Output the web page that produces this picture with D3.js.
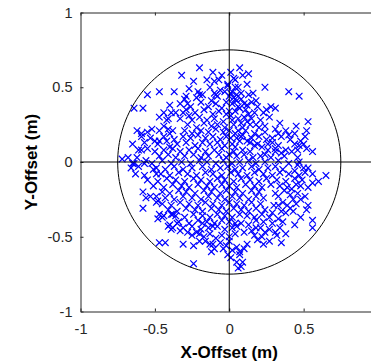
<!DOCTYPE html>
<html>
<head>
<meta charset="utf-8">
<script src="https://cdn.jsdelivr.net/npm/d3@7"></script>
<style>
  body { margin: 0; background: #fff; }
  svg { display: block; }
</style>
</head>
<body>
<svg id="chart" width="371" height="364"></svg>
<script>
// Axis ticks and titles
const tickValues = [-1, -0.5, 0, 0.5, 1];
const tickLabels = ["-1", "-0.5", "0", "0.5", "1"];
const xTitle = "X-Offset (m)";
const yTitle = "Y-Offset (m)";
const ringRadius = 0.75;

// Impact offsets [x, y] in metres
const offsets = [
  // upper band
  [-0.20,0.63],[-0.32,0.58],[-0.11,0.60],[-0.07,0.55],[-0.15,0.55],[-0.24,0.54],[-0.27,0.49],
  [-0.37,0.47],[-0.47,0.47],[-0.55,0.45],[-0.18,0.45],[-0.13,0.50],[-0.10,0.54],[-0.21,0.47],
  [0.07,0.63],[0.13,0.59],[0.09,0.58],[0.04,0.55],[0.12,0.52],[0.24,0.50],[0.40,0.47],[0.47,0.44],
  [0.01,0.46],[0.05,0.45],[-0.01,0.51],[0.13,0.45],[0.16,0.46],[0.18,0.41],[0.19,0.37],[0.10,0.39],
  [0.07,0.36],[0.04,0.42],[0.28,0.37],[0.25,0.35],[0.23,0.33],[0.00,0.34],[0.01,0.31],[0.13,0.32],
  [0.10,0.30],[0.15,0.29],[0.08,0.26],[0.18,0.25],[0.20,0.23],[0.02,0.47],[0.04,0.50],[0.00,0.44],
  [-0.02,0.40],[0.05,0.41],[0.08,0.46],[-0.06,0.48],[-0.10,0.46],[-0.22,0.43],[-0.08,0.44],
  [-0.03,0.47],[0.03,0.43],[-0.12,0.41],[0.08,0.42],[-0.30,0.42],[-0.01,0.52],[0.03,0.56],
  [-0.05,0.58],[0.06,0.50],[0.01,0.60],[-0.29,0.44],[-0.20,0.45],[-0.09,0.45],[-0.28,0.39],
  // right side
  [0.53,0.27],[0.52,0.21],[0.51,0.17],[0.31,0.22],[0.33,0.19],[0.29,0.16],[0.41,0.15],[0.44,0.12],
  [0.47,0.11],[0.48,0.14],[0.46,0.08],[0.38,0.08],[0.56,0.07],[0.06,0.21],[0.08,0.17],[0.12,0.14],
  [0.17,0.11],[0.22,0.10],[0.26,0.12],[0.31,0.07],[0.35,0.06],[0.24,0.05],[0.01,0.16],[0.04,0.10],
  [0.00,0.05],
  // left side, upper half
  [-0.62,0.21],[-0.59,0.19],[-0.52,0.22],[-0.53,0.16],[-0.50,0.14],[-0.61,0.08],[-0.59,0.08],
  [-0.72,0.02],[-0.62,0.03],[-0.56,0.01],[-0.41,0.22],[-0.38,0.21],[-0.47,0.14],[-0.40,0.10],
  [-0.64,0.36],[-0.58,0.36],[-0.44,0.33],[-0.39,0.33],[-0.47,0.30],[-0.41,0.29],[-0.31,0.33],
  [-0.27,0.31],
  // right side, lower half
  [0.65,-0.09],[0.60,-0.13],[0.56,-0.14],[0.53,-0.29],[0.52,-0.32],[0.48,-0.37],[0.56,-0.39],
  [0.56,-0.44],[0.43,-0.25],[0.45,-0.28],[0.39,-0.29],[0.36,-0.27],[0.33,-0.29],[0.35,-0.33],
  [0.38,-0.34],[0.42,-0.18],[0.46,-0.21],[0.48,-0.16],[0.51,-0.23],[0.53,-0.04],[0.51,-0.07],
  [0.46,-0.02],[0.44,-0.06],[0.31,-0.47],[0.32,-0.49],[0.35,-0.54],[0.27,-0.53],[0.19,-0.52],
  [0.12,-0.55],[0.05,-0.57],[0.07,-0.62],[0.09,-0.67],[0.05,-0.67],[0.01,-0.64],[0.24,-0.47],
  [0.18,-0.44],[0.15,-0.46],[0.10,-0.47],[0.13,-0.42],[0.08,-0.41],[0.08,-0.70],[0.06,-0.71],
  [0.07,-0.60],
  // left side, lower half
  [-0.58,-0.20],[-0.53,-0.23],[-0.49,-0.27],[-0.58,-0.31],[-0.47,-0.35],[-0.44,-0.36],[-0.39,-0.35],
  [-0.41,-0.43],[-0.39,-0.45],[-0.47,-0.54],[-0.43,-0.54],[-0.31,-0.55],[-0.24,-0.68],[-0.33,-0.46],
  [-0.28,-0.47],[-0.22,-0.47],[-0.20,-0.53],[-0.13,-0.55],[-0.10,-0.58],[-0.13,-0.48],[-0.09,-0.51],
  [-0.02,-0.56],[-0.01,-0.62],[-0.56,-0.24],[-0.48,-0.26],[-0.49,-0.23],[-0.45,-0.37],[-0.48,-0.38],
  [-0.38,-0.35],[-0.40,-0.42],[-0.38,-0.44],[-0.35,-0.41],[-0.24,-0.56],[-0.25,-0.49],[-0.20,-0.48],
  [-0.11,-0.55],[-0.12,-0.60],[-0.18,-0.41],[-0.11,-0.43],[-0.65,-0.01],[-0.61,-0.03],[-0.57,-0.01],
  [-0.51,-0.05],[-0.49,-0.08],
  // central cloud
  [-0.40,0.38],[-0.33,0.39],[-0.26,0.37],[-0.19,0.40],[-0.14,0.37],[-0.09,0.39],[-0.05,0.36],
  [0.02,0.39],[0.06,0.37],[0.12,0.38],[0.15,0.40],
  [-0.36,0.33],[-0.29,0.35],[-0.23,0.33],[-0.17,0.35],[-0.11,0.32],[-0.07,0.34],[-0.02,0.32],
  [0.04,0.34],[0.11,0.35],[0.17,0.33],[0.31,0.36],
  [-0.42,0.28],[-0.33,0.29],[-0.25,0.28],[-0.20,0.30],[-0.15,0.28],[-0.10,0.29],[-0.04,0.27],
  [0.02,0.28],[0.06,0.29],[0.12,0.27],[0.21,0.28],[0.27,0.30],
  [-0.44,0.24],[-0.28,0.25],[-0.22,0.23],[-0.17,0.26],[-0.12,0.24],[-0.08,0.25],[-0.03,0.23],
  [0.03,0.25],[0.09,0.23],[0.14,0.25],[0.24,0.24],[0.34,0.26],[0.45,0.24],
  [-0.55,0.20],[-0.47,0.21],[-0.40,0.19],[-0.30,0.21],[-0.25,0.19],[-0.19,0.21],[-0.14,0.20],
  [-0.09,0.22],[-0.04,0.20],[0.00,0.21],[0.04,0.19],[0.11,0.21],[0.17,0.19],[0.24,0.20],
  [0.38,0.21],[0.44,0.19],
  [-0.59,0.17],[-0.44,0.17],[-0.37,0.15],[-0.31,0.17],[-0.26,0.16],[-0.21,0.18],[-0.16,0.16],
  [-0.11,0.17],[-0.06,0.15],[-0.02,0.17],[0.05,0.16],[0.09,0.18],[0.15,0.16],[0.20,0.17],
  [0.25,0.15],[0.35,0.17],[0.40,0.18],
  [-0.65,0.12],[-0.57,0.13],[-0.48,0.12],[-0.42,0.14],[-0.35,0.12],[-0.29,0.13],[-0.23,0.11],
  [-0.18,0.13],[-0.13,0.12],[-0.08,0.13],[-0.03,0.11],[0.02,0.12],[0.07,0.14],[0.14,0.13],
  [0.19,0.12],[0.29,0.13],[0.33,0.11],[0.50,0.12],
  [-0.55,0.09],[-0.50,0.07],[-0.44,0.08],[-0.38,0.09],[-0.33,0.07],[-0.27,0.08],[-0.21,0.09],
  [-0.16,0.07],[-0.10,0.08],[-0.05,0.09],[0.03,0.07],[0.09,0.08],[0.14,0.07],[0.26,0.08],
  [0.31,0.09],[0.42,0.07],[0.52,0.09],
  [-0.68,0.03],[-0.47,0.04],[-0.41,0.05],[-0.36,0.03],[-0.30,0.04],[-0.24,0.05],[-0.19,0.03],
  [-0.14,0.04],[-0.07,0.05],[-0.02,0.03],[0.05,0.04],[0.10,0.05],[0.16,0.03],[0.21,0.04],
  [0.28,0.03],[0.37,0.04],[0.46,0.03],
  [-0.64,-0.01],[-0.52,-0.01],[-0.45,0.01],[-0.39,-0.01],[-0.32,0.00],[-0.26,-0.01],[-0.20,0.01],
  [-0.15,0.00],[-0.09,-0.01],[-0.04,0.01],[0.02,-0.01],[0.07,0.00],[0.13,0.01],[0.18,-0.01],
  [0.24,0.00],[0.33,0.01],[0.40,-0.01],[0.47,0.00],
  [-0.66,-0.04],[-0.49,-0.04],[-0.43,-0.05],[-0.37,-0.03],[-0.31,-0.05],[-0.25,-0.04],[-0.18,-0.03],
  [-0.12,-0.05],[-0.06,-0.04],[-0.01,-0.03],[0.04,-0.05],[0.09,-0.04],[0.15,-0.03],[0.20,-0.05],
  [0.26,-0.04],[0.31,-0.03],[0.36,-0.05],[0.50,-0.04],
  [-0.63,-0.08],[-0.57,-0.09],[-0.46,-0.08],[-0.40,-0.09],[-0.34,-0.07],[-0.28,-0.08],[-0.22,-0.09],
  [-0.16,-0.07],[-0.11,-0.08],[-0.05,-0.09],[0.01,-0.07],[0.06,-0.08],[0.12,-0.09],[0.17,-0.07],
  [0.23,-0.08],[0.29,-0.09],[0.34,-0.07],[0.40,-0.08],[0.47,-0.09],[0.56,-0.08],
  [-0.55,-0.12],[-0.48,-0.13],[-0.42,-0.11],[-0.36,-0.12],[-0.30,-0.13],[-0.24,-0.11],[-0.19,-0.12],
  [-0.13,-0.13],[-0.08,-0.11],[-0.03,-0.12],[0.03,-0.13],[0.08,-0.11],[0.14,-0.12],[0.20,-0.13],
  [0.25,-0.11],[0.32,-0.12],[0.38,-0.13],[0.44,-0.11],[0.49,-0.12],
  [-0.51,-0.16],[-0.44,-0.17],[-0.38,-0.15],[-0.32,-0.16],[-0.27,-0.17],[-0.21,-0.15],[-0.15,-0.16],
  [-0.10,-0.17],[-0.05,-0.15],[0.00,-0.16],[0.05,-0.17],[0.11,-0.15],[0.17,-0.16],[0.22,-0.17],
  [0.28,-0.15],[0.34,-0.16],[0.39,-0.17],[0.45,-0.15],[0.53,-0.17],
  [-0.45,-0.20],[-0.40,-0.21],[-0.34,-0.19],[-0.29,-0.20],[-0.23,-0.21],[-0.17,-0.19],[-0.12,-0.20],
  [-0.06,-0.21],[-0.02,-0.19],[0.04,-0.20],[0.09,-0.21],[0.15,-0.19],[0.20,-0.20],[0.31,-0.21],
  [0.37,-0.19],[0.41,-0.22],
  [-0.43,-0.24],[-0.37,-0.25],[-0.31,-0.23],[-0.25,-0.24],[-0.19,-0.25],[-0.14,-0.23],[-0.08,-0.24],
  [-0.03,-0.25],[0.02,-0.23],[0.07,-0.24],[0.13,-0.25],[0.18,-0.23],[0.23,-0.24],[0.33,-0.23],
  [0.48,-0.25],
  [-0.45,-0.28],[-0.39,-0.29],[-0.33,-0.27],[-0.27,-0.28],[-0.21,-0.29],[-0.16,-0.27],[-0.11,-0.28],
  [-0.05,-0.29],[0.00,-0.27],[0.05,-0.28],[0.10,-0.29],[0.15,-0.27],[0.21,-0.28],[0.30,-0.29],
  [0.41,-0.31],
  [-0.41,-0.32],[-0.35,-0.33],[-0.29,-0.31],[-0.23,-0.32],[-0.18,-0.33],[-0.12,-0.31],[-0.07,-0.32],
  [-0.02,-0.33],[0.03,-0.31],[0.08,-0.32],[0.13,-0.33],[0.18,-0.31],[0.24,-0.32],[0.29,-0.34],
  [0.43,-0.33],
  [-0.36,-0.36],[-0.30,-0.37],[-0.24,-0.35],[-0.18,-0.36],[-0.13,-0.37],[-0.08,-0.35],[-0.03,-0.36],
  [0.02,-0.37],[0.07,-0.35],[0.12,-0.36],[0.17,-0.37],[0.22,-0.35],[0.27,-0.37],[0.33,-0.38],
  [-0.34,-0.40],[-0.27,-0.41],[-0.21,-0.39],[-0.15,-0.40],[-0.10,-0.41],[-0.05,-0.39],[0.00,-0.40],
  [0.04,-0.41],[0.18,-0.39],[0.23,-0.40],[0.29,-0.41],[0.36,-0.40],[0.44,-0.42],
  [-0.31,-0.44],[-0.25,-0.43],[-0.19,-0.45],[-0.14,-0.44],[-0.08,-0.43],[-0.03,-0.45],[0.02,-0.44],
  [0.05,-0.43],[0.21,-0.44],[0.27,-0.45],[0.34,-0.44],
  [-0.17,-0.50],[-0.05,-0.49],[0.00,-0.50],[0.04,-0.48],[0.17,-0.49],[0.22,-0.50],[0.38,-0.48],
  [-0.16,-0.53],[-0.06,-0.54],[0.00,-0.53],[0.23,-0.55],
  [-0.04,-0.58],[0.02,-0.59],[0.10,-0.58]
];

const W = 371, H = 364;
const svg = d3.select("#chart");
svg.append("rect").attr("width", W).attr("height", H).attr("fill", "#fff");

const x = d3.scaleLinear().domain([-1, 1]).range([80.5, 378]);
const y = d3.scaleLinear().domain([-1, 1]).range([311.5, 12.5]);

const axisColor = "#262626";
const fontFamily = "'Liberation Sans', Arial, Helvetica, sans-serif";
// the x = 1 label falls past the right edge of the figure, so it is left blank
const fmtY = d => tickLabels[tickValues.indexOf(d)];
const fmtX = d => (d < 1 ? tickLabels[tickValues.indexOf(d)] : "");

function styleAxis(g) {
  g.selectAll(".domain").attr("stroke", axisColor).attr("stroke-width", 1);
  g.selectAll(".tick line").attr("stroke", axisColor).attr("stroke-width", 1);
  g.selectAll(".tick text").attr("fill", axisColor)
    .style("font-family", fontFamily).style("font-size", "14.5px");
}

// Bottom and left axes with inward ticks and labels
svg.append("g").attr("transform", `translate(0,${y(-1)})`)
  .call(d3.axisBottom(x).tickValues(tickValues).tickFormat(fmtX)
    .tickSizeInner(-3).tickSizeOuter(0).tickPadding(12))
  .call(styleAxis);

svg.append("g").attr("transform", `translate(${x(-1)},0)`)
  .call(d3.axisLeft(y).tickValues(tickValues).tickFormat(fmtY)
    .tickSizeInner(-3).tickSizeOuter(0).tickPadding(8))
  .call(styleAxis);

// Top and right box edges, ticks only
svg.append("g").attr("transform", `translate(0,${y(1)})`)
  .call(d3.axisTop(x).tickValues(tickValues).tickFormat("")
    .tickSizeInner(-3).tickSizeOuter(0))
  .call(styleAxis);
svg.append("g").attr("transform", `translate(${x(1)},0)`)
  .call(d3.axisRight(y).tickValues(tickValues).tickFormat("")
    .tickSizeInner(-3).tickSizeOuter(0))
  .call(styleAxis);

// Impact markers
const m = 3.3;
svg.append("g")
  .selectAll("path")
  .data(offsets)
  .join("path")
  .attr("transform", d => `translate(${x(d[0])},${y(d[1])})`)
  .attr("d", `M${-m},${-m}L${m},${m}M${-m},${m}L${m},${-m}`)
  .attr("fill", "none")
  .attr("stroke", "#0000ff")
  .attr("stroke-width", 1.2);

// Crosshair and reference ring
svg.append("line")
  .attr("x1", x(-1)).attr("x2", x(1)).attr("y1", y(0)).attr("y2", y(0))
  .attr("stroke", "#000").attr("stroke-width", 1);
svg.append("line")
  .attr("x1", x(0)).attr("x2", x(0)).attr("y1", y(-1)).attr("y2", y(1))
  .attr("stroke", "#000").attr("stroke-width", 1);

const ring = d3.range(0, 361, 2).map(a => {
  const t = a * Math.PI / 180;
  return [ringRadius * Math.cos(t), ringRadius * Math.sin(t)];
});
svg.append("path")
  .datum(ring)
  .attr("d", d3.line().x(d => x(d[0])).y(d => y(d[1])))
  .attr("fill", "none").attr("stroke", "#000").attr("stroke-width", 1);

// Axis titles
svg.append("text")
  .attr("x", x(0)).attr("y", 358)
  .attr("text-anchor", "middle")
  .attr("fill", "#000")
  .style("font-family", fontFamily).style("font-size", "17px").style("font-weight", "bold")
  .text(xTitle);

svg.append("text")
  .attr("transform", `translate(37,${y(0)}) rotate(-90)`)
  .attr("text-anchor", "middle")
  .attr("fill", "#000")
  .style("font-family", fontFamily).style("font-size", "17px").style("font-weight", "bold")
  .text(yTitle);
</script>
</body>
</html>
